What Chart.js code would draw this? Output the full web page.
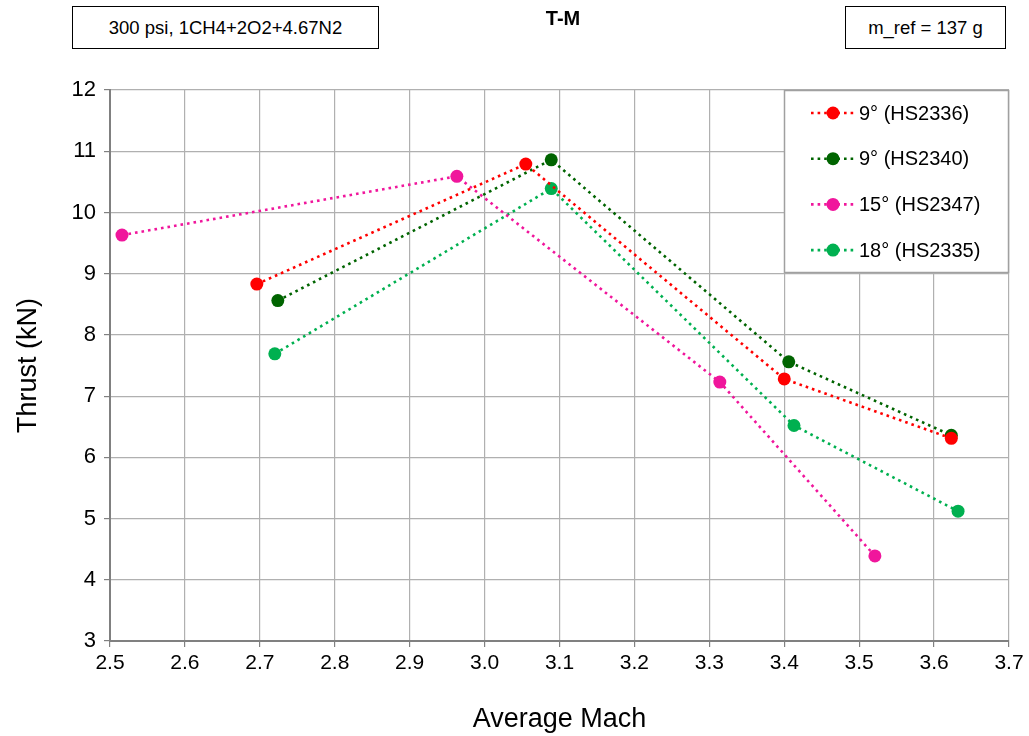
<!DOCTYPE html>
<html>
<head>
<meta charset="utf-8">
<script src="https://cdn.jsdelivr.net/npm/chart.js@4"></script>
<style>
  html, body { margin: 0; padding: 0; background: #fff; }
  #wrap { position: relative; width: 1029px; height: 736px; }
  canvas { position: absolute; left: 0; top: 0; }
  .box { position: absolute; border: 1px solid #000; background: #fff; font-family: "Liberation Sans", Arial, sans-serif; font-size: 18.5px; color: #000; display: flex; align-items: center; justify-content: center; box-sizing: border-box; }
  #title { position: absolute; left: 463px; width: 200px; top: 7px; text-align: center; font-family: "Liberation Sans", Arial, sans-serif; font-weight: bold; font-size: 20px; }
</style>
</head>
<body>
<div id="wrap">
  <canvas id="c" width="1029" height="736"></canvas>
  <div class="box" style="left:72px;top:6px;width:307px;height:43px;">300 psi, 1CH4+2O2+4.67N2</div>
  <div id="title">T-M</div>
  <div class="box" style="left:845px;top:6px;width:161px;height:43px;">m_ref = 137 g</div>
</div>
<script>
const seriesLabels = ["9° (HS2336)", "9° (HS2340)", "15° (HS2347)", "18° (HS2335)"];
const seriesColors = ["#ff0000", "#006400", "#f0169c", "#00b050"];

const machHS2336 = [2.696, 3.055, 3.400, 3.623];
const thrustHS2336 = [8.83, 10.79, 7.28, 6.31];

const machHS2340 = [2.724, 3.089, 3.406, 3.623];
const thrustHS2340 = [8.56, 10.86, 7.56, 6.36];

const machHS2347 = [2.516, 2.963, 3.314, 3.521];
const thrustHS2347 = [9.63, 10.59, 7.23, 4.39];

const machHS2335 = [2.720, 3.089, 3.413, 3.632];
const thrustHS2335 = [7.69, 10.39, 6.52, 5.12];

const xMin = 2.5, xMax = 3.7, xStep = 0.1;
const yMin = 3, yMax = 12, yStep = 1;

function pts(xs, ys) { return xs.map((x, i) => ({ x: x, y: ys[i] })); }
const allX = [machHS2336, machHS2340, machHS2347, machHS2335];
const allY = [thrustHS2336, thrustHS2340, thrustHS2347, thrustHS2335];

const datasets = seriesLabels.map((lab, i) => ({
  label: lab,
  data: pts(allX[i], allY[i]),
  borderColor: seriesColors[i],
  backgroundColor: seriesColors[i],
  pointBackgroundColor: seriesColors[i],
  pointBorderColor: seriesColors[i],
  pointRadius: 6.5,
  pointBorderWidth: 0,
  borderWidth: 2.6,
  borderDash: [2.6, 4],
  showLine: true,
  tension: 0,
  fill: false
}));

const FONT = '"Liberation Sans", Arial, sans-serif';

const legendPlugin = {
  id: 'insideLegend',
  afterDatasetsDraw(chart) {
    const ctx = chart.ctx;
    const bx = 784, by = 90, bw = 224, bh = 182;
    ctx.save();
    ctx.fillStyle = '#fff';
    ctx.fillRect(bx, by, bw, bh);
    ctx.strokeStyle = '#a0a0a0';
    ctx.lineWidth = 1.5;
    ctx.strokeRect(bx + 0.5, by + 0.5, bw, bh);
    chart.data.datasets.forEach((ds, i) => {
      const cy = 113 + i * 45.7;
      ctx.strokeStyle = ds.borderColor;
      ctx.lineWidth = 2.6;
      ctx.setLineDash([2.6, 4]);
      ctx.beginPath();
      ctx.moveTo(811, cy);
      ctx.lineTo(854, cy);
      ctx.stroke();
      ctx.setLineDash([]);
      ctx.fillStyle = ds.borderColor;
      ctx.beginPath();
      ctx.arc(833, cy, 6.5, 0, Math.PI * 2);
      ctx.fill();
      ctx.fillStyle = '#000';
      ctx.font = '20px ' + FONT;
      ctx.textBaseline = 'middle';
      ctx.textAlign = 'left';
      ctx.fillText(ds.label, 859, cy + 1);
    });
    ctx.restore();
  }
};

new Chart(document.getElementById('c'), {
  type: 'scatter',
  data: { datasets: datasets },
  options: {
    responsive: false,
    animation: false,
    devicePixelRatio: 1,
    layout: { padding: { top: 90, right: 20, left: 0, bottom: 0 } },
    plugins: { legend: { display: false }, tooltip: { enabled: false }, title: { display: false } },
    scales: {
      x: {
        type: 'linear', min: xMin, max: xMax,
        afterBuildTicks(scale) {
          const t = [];
          for (let v = Math.round(xMin * 10); v <= Math.round(xMax * 10); v += Math.round(xStep * 10)) t.push({ value: v / 10 });
          scale.ticks = t;
        },
        afterFit(scale) { scale.height = 95; },
        grid: { color: '#b0b0b0', lineWidth: 1.2, tickLength: 6, tickColor: '#808080' },
        border: { color: '#808080', width: 2 },
        ticks: { color: '#000', font: { family: FONT, size: 21 }, padding: 4, maxRotation: 0, autoSkip: false, callback: v => v.toFixed(1) },
        title: { display: true, text: 'Average Mach', color: '#000', font: { family: FONT, size: 27 }, padding: { top: 16, bottom: 0 } }
      },
      y: {
        type: 'linear', min: yMin, max: yMax,
        ticks: { stepSize: yStep, color: '#000', font: { family: FONT, size: 22 }, padding: 8 },
        afterFit(scale) { scale.width = 110; },
        grid: { color: '#b0b0b0', lineWidth: 1.2, tickLength: 6, tickColor: '#808080' },
        border: { color: '#808080', width: 2 },
        title: { display: true, text: 'Thrust (kN)', color: '#000', font: { family: FONT, size: 27 }, padding: { top: 12, bottom: 6 } }
      }
    }
  },
  plugins: [legendPlugin]
});
</script>
</body>
</html>
